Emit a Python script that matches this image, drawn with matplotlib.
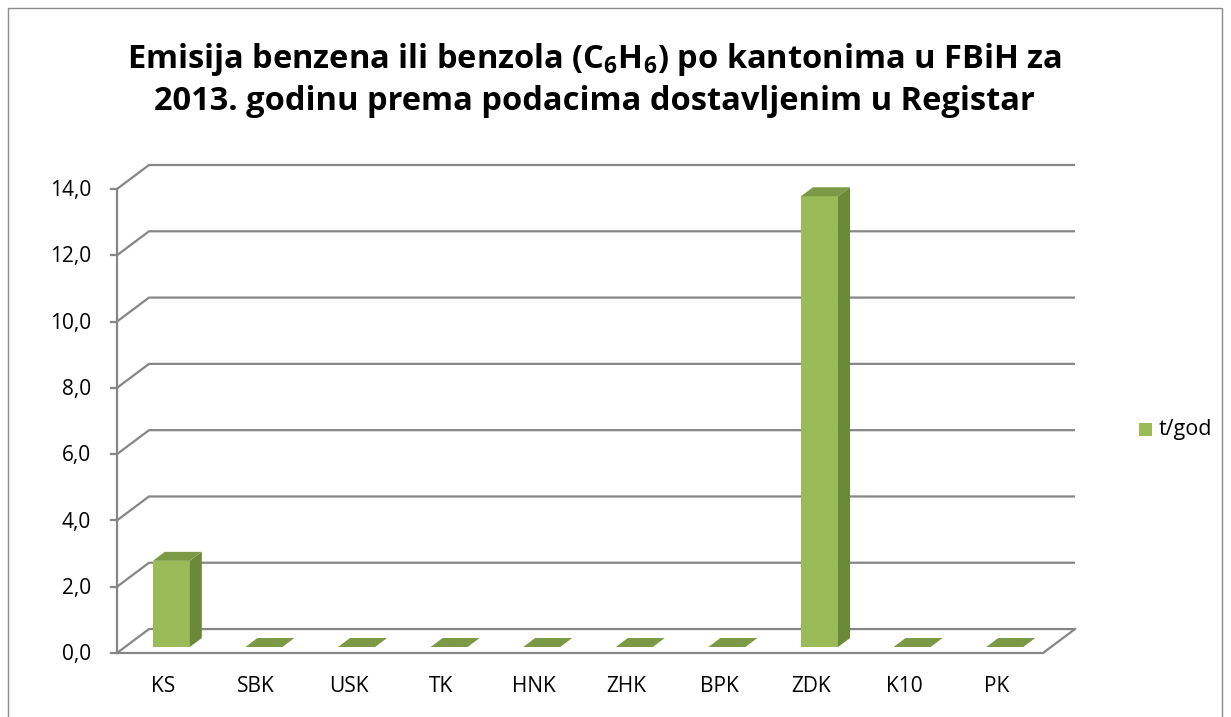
import matplotlib
matplotlib.use("Agg")
import matplotlib.pyplot as plt
from matplotlib.patches import Polygon, Rectangle

categories = ["KS", "SBK", "USK", "TK", "HNK", "ZHK", "BPK", "ZDK", "K10", "PK"]
values = [2.6, 0.0, 0.0, 0.0, 0.0, 0.0, 0.0, 13.6, 0.0, 0.0]
yticks = [0, 2, 4, 6, 8, 10, 12, 14]
ytick_labels = ["0,0", "2,0", "4,0", "6,0", "8,0", "10,0", "12,0", "14,0"]
series_name = "t/god"

plt.rcParams['font.family'] = ['Open Sans', 'DejaVu Sans']
plt.rcParams['mathtext.fontset'] = 'custom'
plt.rcParams['mathtext.rm'] = 'Open Sans'
plt.rcParams['mathtext.bf'] = 'Open Sans:bold'

W, H = 1231, 717
fig = plt.figure(figsize=(W / 100, H / 100), dpi=100)
fig.patch.set_facecolor("white")

# outer border
fig.add_artist(Rectangle((8 / W, -0.01), (1222 - 8) / W, (H - 8) / H + 0.01,
                         transform=fig.transFigure, fill=False,
                         edgecolor="#8c8c8c", lw=1.0))

grid_c = "#868686"
front_c = "#9BBB59"
side_c = "#6A8A38"
top_c = "#7C9A45"

n = len(categories)
dxc = 32 / 92.6      # depth offset in category units
dyv = 24 / 33.2      # depth offset in value units
left_px, right_px = 117, 1075
bot_px, top_px = 653, 165
ax = fig.add_axes([left_px / W, (H - bot_px) / H, (right_px - left_px) / W, (bot_px - top_px) / H])
ax.set_xlim(-0.5, n - 0.5 + dxc)
ax.set_ylim(0, 14 + dyv)
ax.axis("off")

# back wall gridlines
for v in yticks:
    ax.plot([-0.5, -0.5 + dxc, n - 0.5 + dxc], [v, v + dyv, v + dyv],
            color=grid_c, lw=1.6, solid_capstyle="butt", clip_on=False, zorder=1)
# floor front edge and right edge
ax.plot([-0.5, n - 0.5, n - 0.5 + dxc], [0, 0, dyv], color=grid_c, lw=1.6,
        clip_on=False, zorder=1)
# left axis line
ax.plot([-0.5, -0.5], [0, 14], color=grid_c, lw=1.6, clip_on=False, zorder=5)
tick_len = 0.07
for v, lab in zip(yticks, ytick_labels):
    ax.plot([-0.5 - tick_len, -0.5], [v, v], color=grid_c, lw=1.6, clip_on=False, zorder=5)
    ax.text(-0.78, v - 0.05, lab, ha="right", va="center", fontsize=15, color="black")

for i, lab in enumerate(categories):
    ax.text(i, -1.02, lab, ha="center", va="center", fontsize=15, color="black")

# bars
bw = 0.4
f0 = 0.25
fd = 0.375
for i, v in enumerate(values):
    x0 = i - bw / 2 + f0 * dxc
    y0 = f0 * dyv
    ddx, ddy = fd * dxc, fd * dyv
    if v > 0:
        ax.add_patch(Polygon([(x0, y0), (x0 + bw, y0), (x0 + bw, y0 + v), (x0, y0 + v)],
                             closed=True, facecolor=front_c, edgecolor="none", zorder=3))
        ax.add_patch(Polygon([(x0 + bw, y0), (x0 + bw + ddx, y0 + ddy),
                              (x0 + bw + ddx, y0 + v + ddy), (x0 + bw, y0 + v)],
                             closed=True, facecolor=side_c, edgecolor="none", zorder=3))
    ax.add_patch(Polygon([(x0, y0 + v), (x0 + bw, y0 + v), (x0 + bw + ddx, y0 + v + ddy),
                          (x0 + ddx, y0 + v + ddy)],
                         closed=True, facecolor=top_c, edgecolor="none", zorder=3))

# title
fig.text(594 / W, 1 - 60 / H,
         r"Emisija benzena ili benzola (C$_\mathbf{6}$H$_\mathbf{6}$) po kantonima u FBiH za",
         ha="center", va="center", fontsize=23.5, fontweight="bold")
fig.text(594 / W, 1 - 102 / H,
         "2013. godinu prema podacima dostavljenim u Registar",
         ha="center", va="center", fontsize=23.5, fontweight="bold")

# legend
fig.add_artist(Rectangle((1139 / W, 1 - 436 / H), 13 / W, 13 / H,
                         transform=fig.transFigure, facecolor=front_c, edgecolor="none"))
fig.text(1159 / W, 1 - 430 / H, series_name, ha="left", va="center", fontsize=15.5)

fig.savefig("out.png", dpi=100)
